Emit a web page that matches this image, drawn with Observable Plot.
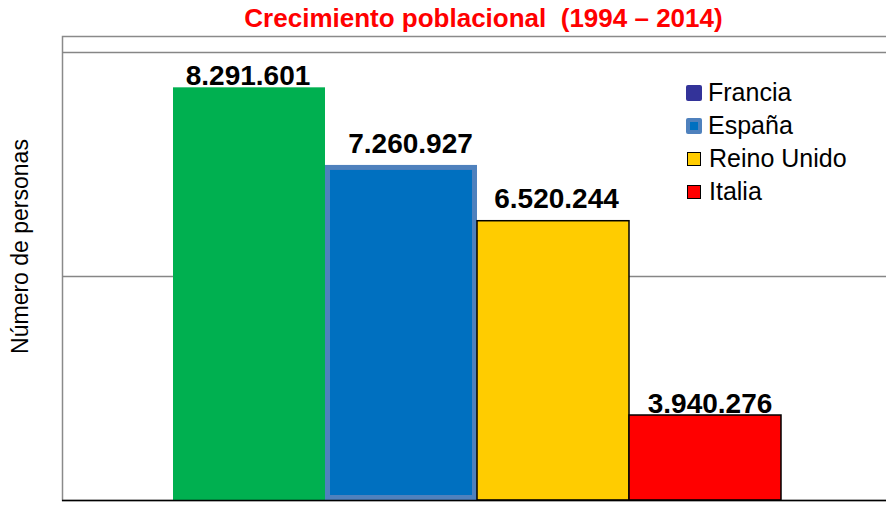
<!DOCTYPE html>
<html><head><meta charset="utf-8">
<script src="https://cdn.jsdelivr.net/npm/d3@7"></script>
<script src="https://cdn.jsdelivr.net/npm/@observablehq/plot@0.6"></script>
<style>
html,body{margin:0;padding:0;background:#fff;}
#wrap{position:relative;width:886px;height:505px;overflow:hidden;font-family:"Liberation Sans",Arial,sans-serif;}
#title{height:34px;line-height:34px;padding-top:1px;box-sizing:border-box;padding-left:81px;text-align:center;color:#ff0000;font-weight:bold;font-size:26px;white-space:pre;}
#legend{position:absolute;left:686px;top:76px;}
.row{display:flex;align-items:center;height:33px;font-size:25px;color:#000;white-space:pre;}
.sw{width:16px;height:16px;margin-right:6px;display:flex;align-items:center;justify-content:center;box-sizing:border-box;}
svg{display:block;}
</style>
</head>
<body>
<div id="wrap">
  <div id="title"></div>
  <div id="chart"></div>
  <div id="legend"></div>
</div>
<script>
const countries = ["Francia", "España", "Reino Unido", "Italia"];
const population = [8291601, 7260927, 6520244, 3940276];
const valueLabels = ["8.291.601", "7.260.927", "6.520.244", "3.940.276"];
const legendNames = ["Francia", "España", "Reino Unido", "Italia"];
const titleText = "Crecimiento poblacional  (1994 – 2014)";
const yLabel = "Número de personas";

const data = countries.map((c, i) => ({country: c, value: population[i], label: valueLabels[i]}));
const yMin = 2811600, yMax = 8760600;
const labelOffset = {"Francia": [-1.5, -3.3], "España": [9, -12], "Reino Unido": [3, -13], "Italia": [4.5, -2.7]};

document.getElementById("title").textContent = titleText;

const byCountry = c => data.filter(d => d.country === c);

const plot = Plot.plot({
  width: 886, height: 471,
  marginTop: 18, marginBottom: 5, marginLeft: 62, marginRight: 0,
  style: {fontFamily: "Liberation Sans, Arial, sans-serif", background: "transparent", overflow: "visible"},
  x: {type: "band", domain: countries, range: [173, 781], padding: 0, axis: null},
  y: {domain: [yMin, yMax], axis: null},
  marks: [
    Plot.frame({stroke: "#8a8a8a", strokeWidth: 1.5, insetTop: -16, insetRight: -4}),
    Plot.ruleY([(yMin + yMax) / 2, yMax], {stroke: "#868686", strokeWidth: 1.5}),
    Plot.barY(byCountry("Francia"), {x: "country", y1: yMin, y2: "value", fill: "#00B050"}),
    Plot.barY(byCountry("España"), {x: "country", y1: yMin, y2: "value", fill: "#0070C0", stroke: "#4F81BD", strokeWidth: 5, inset: 2.5}),
    Plot.barY(byCountry("Reino Unido"), {x: "country", y1: yMin, y2: "value", fill: "#FFCC00", stroke: "#000", strokeWidth: 1.5}),
    Plot.barY(byCountry("Italia"), {x: "country", y1: yMin, y2: "value", fill: "#FF0000", stroke: "#000", strokeWidth: 1.5}),
    Plot.ruleY([yMin], {stroke: "#000", strokeWidth: 1.5}),
    ...countries.map(c => Plot.text(byCountry(c), {
      x: "country", y: "value", text: "label",
      dx: labelOffset[c][0], dy: labelOffset[c][1],
      lineAnchor: "bottom", textAnchor: "middle",
      fontSize: 28, fontWeight: "bold", fill: "#000"
    })),
    Plot.text([yLabel], {frameAnchor: "left", rotate: -90, dx: -42, dy: -30, fontSize: 23, textAnchor: "middle", fill: "#000"})
  ]
});
document.getElementById("chart").appendChild(plot);

// Legend
const legendSwatch = {
  "Francia": s => { s.style.background = "#333399"; s.style.borderRadius = "2px"; },
  "España": s => { s.style.background = "#4F81BD"; s.style.borderRadius = "2px";
    const inner = document.createElement("div"); inner.style.width = "8px"; inner.style.height = "8px"; inner.style.background = "#0070C0"; s.appendChild(inner); },
  "Reino Unido": s => { s.style.width = "14px"; s.style.height = "14px"; s.style.marginRight = "8px"; s.style.marginLeft = "1px"; s.style.background = "#FFCC00"; s.style.border = "1.5px solid #000"; },
  "Italia": s => { s.style.width = "14px"; s.style.height = "14px"; s.style.marginRight = "8px"; s.style.marginLeft = "1px"; s.style.background = "#FF0000"; s.style.border = "1.5px solid #000"; }
};
const legend = document.getElementById("legend");
legendNames.forEach(name => {
  const row = document.createElement("div"); row.className = "row";
  const sw = document.createElement("div"); sw.className = "sw";
  legendSwatch[name](sw);
  const t = document.createElement("span"); t.textContent = name;
  row.appendChild(sw); row.appendChild(t);
  legend.appendChild(row);
});
</script>
</body></html>
